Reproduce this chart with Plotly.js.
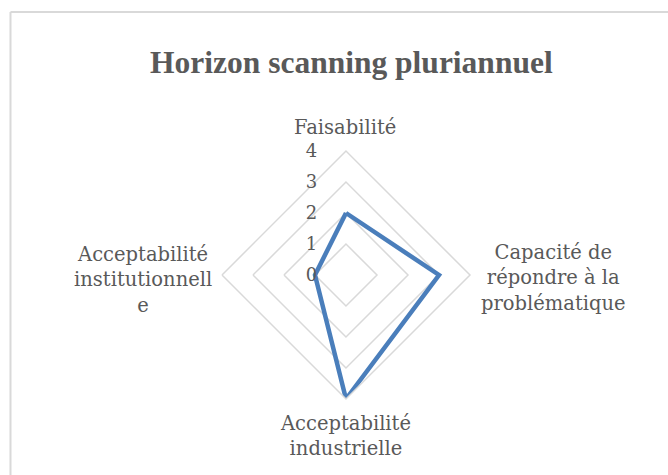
<!DOCTYPE html>
<html>
<head>
<meta charset="utf-8">
<script src="https://cdn.plot.ly/plotly-3.0.1.min.js"></script>
<style>
  html, body { margin: 0; padding: 0; background: #fff; }
  #chart { width: 668px; height: 475px; }
</style>
</head>
<body>
<div id="chart"></div>
<script>
// critères (dans l'ordre des aiguilles d'une montre, à partir du haut)
const criteres = ['Faisabilité', 'Capacité de répondre à la problématique',
  'Acceptabilité industrielle', 'Acceptabilité institutionnelle']
// libellés tels qu'ils sont coupés sur le graphique
const libelles = [
  'Faisabilité',
  'Capacité de<br>répondre à la<br>problématique',
  'Acceptabilité<br>industrielle',
  'Acceptabilité<br>institutionnell<br>e'
]
const scores = [2, 3, 4, 1]
const radialTicks = [0, 1, 2, 3, 4]

const textGrey = '#595959'
const gridGrey = '#d9d9d9'
const labelFont = { family: 'DejaVu Serif', size: 19.5, color: textGrey }

// close the polygon by repeating the first point
let r = scores.concat([scores[0]])
let theta = criteres.concat([criteres[0]])

let trace = {
  type: 'scatterpolar',
  mode: 'lines',
  r: r,
  theta: theta,
  line: { color: '#4a7ebb', width: 4.5 },
  hoverinfo: 'skip'
}

// category labels, centred like the original (placed around the polar domain)
let labelPos = [
  { x: 0.5165, y: 0.703, xanchor: 'center', yanchor: 'bottom' },
  { x: 0.828, y: 0.4147, xanchor: 'center', yanchor: 'middle' },
  { x: 0.5165, y: 0.137, xanchor: 'center', yanchor: 'top' },
  { x: 0.2141, y: 0.4105, xanchor: 'center', yanchor: 'middle' }
]
let annotations = libelles.map(function (txt, i) {
  return Object.assign({
    xref: 'paper', yref: 'paper', text: txt, showarrow: false,
    align: 'center', font: labelFont
  }, labelPos[i])
})

let layout = {
  width: 668,
  height: 475,
  margin: { l: 0, r: 0, t: 0, b: 0 },
  paper_bgcolor: '#ffffff',
  showlegend: false,
  title: {
    text: '<b>Horizon scanning pluriannuel</b>',
    font: { family: 'Liberation Serif', size: 31.5, color: textGrey },
    x: 0.526, xanchor: 'center',
    y: 0.87, yanchor: 'middle'
  },
  polar: {
    domain: { x: [0.3323, 0.7036], y: [0.16, 0.6821] },
    gridshape: 'linear',
    bgcolor: 'rgba(0,0,0,0)',
    radialaxis: {
      range: [0, 4],
      tickvals: radialTicks,
      angle: 90,
      tickangle: 90,
      side: 'counterclockwise',
      showline: false,
      gridcolor: gridGrey,
      gridwidth: 1.5,
      ticks: 'outside',
      ticklen: 22,
      tickcolor: 'rgba(0,0,0,0)',
      tickfont: { family: 'DejaVu Serif', size: 18, color: textGrey }
    },
    angularaxis: {
      rotation: 90,
      direction: 'clockwise',
      showgrid: false,
      showline: true,
      linecolor: gridGrey,
      linewidth: 1.5,
      ticks: '',
      showticklabels: false
    }
  },
  annotations: annotations,
  shapes: [
    // chart frame (only top and left edges are visible)
    { type: 'line', xref: 'paper', yref: 'paper', x0: 0.0157, x1: 1, y0: 0.975, y1: 0.975,
      line: { color: gridGrey, width: 2 } },
    { type: 'line', xref: 'paper', yref: 'paper', x0: 0.0157, x1: 0.0157, y0: 0, y1: 0.975,
      line: { color: gridGrey, width: 2 } }
  ]
}

Plotly.newPlot('chart', [trace], layout, { displayModeBar: false, staticPlot: true })
</script>
</body>
</html>
